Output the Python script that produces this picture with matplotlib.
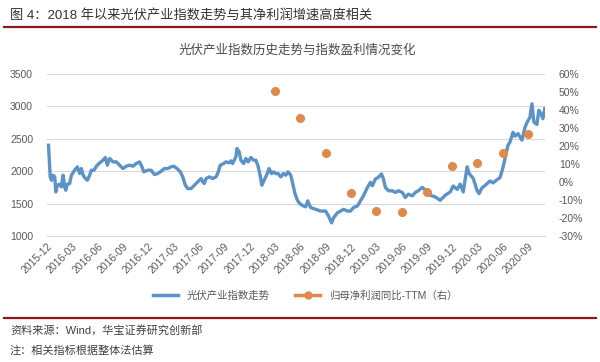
import numpy as np
import matplotlib
matplotlib.use('Agg')
import matplotlib.pyplot as plt
from matplotlib.lines import Line2D

plt.rcParams['font.family'] = ['Liberation Sans', 'Noto Sans CJK SC', 'DejaVu Sans']

# month offsets since 2015-12 and index level
months = [0.18, 0.38, 0.53, 0.73, 0.92, 1.04, 1.24, 1.51, 1.71, 1.91, 2.10, 2.22, 2.42, 2.69, 2.89,
          3.28, 3.60, 3.87, 4.07, 4.28, 4.55, 4.78, 5.05, 5.26, 5.57, 5.85, 6.24, 6.64, 6.91, 7.15,
          7.42, 7.82, 8.21, 8.60, 9.00, 9.39, 9.78, 10.18, 10.57, 10.96, 11.16, 11.48, 11.95, 12.34,
          12.73, 13.13, 13.52, 13.91, 14.31, 14.70, 15.02, 15.41, 15.80, 16.08, 16.39, 16.68, 17.07,
          17.46, 17.86, 18.25, 18.45, 18.64, 18.84, 19.23, 19.63, 20.02, 20.22, 20.53, 20.93, 21.20,
          21.59, 21.79, 21.99, 22.18, 22.38, 22.50, 22.77, 22.97, 23.29, 23.56, 23.83, 24.15, 24.47,
          24.74, 25.01, 25.25, 25.45, 25.72, 26.01, 26.31, 26.60, 26.83, 27.10, 27.38, 27.70, 28.01,
          28.29, 28.56, 28.88, 29.15, 29.38, 29.67, 29.94, 30.29, 30.65, 30.88, 31.24, 31.83, 32.42,
          33.01, 33.36, 33.72, 33.95, 34.42, 34.78, 35.13, 35.60, 35.96, 36.31, 36.78, 37.14, 37.49,
          37.96, 38.32, 38.55, 38.91, 39.26, 39.62, 39.86, 40.09, 40.45, 40.92, 41.27, 41.63, 42.10,
          42.45, 42.81, 43.28, 43.64, 43.99, 44.46, 44.82, 45.41, 46.00, 46.59, 47.18, 47.77, 48.12,
          48.60, 48.95, 49.31, 49.78, 50.01, 50.49, 50.96, 51.19, 51.55, 51.90, 52.49, 52.85, 53.32,
          53.67, 54.03, 54.38, 54.62, 54.85, 55.21, 55.44, 55.80, 56.27, 56.62, 56.86, 57.21, 57.45,
          57.68, 58.04, 58.27, 58.51, 58.74, 58.98]
index_vals = [2400, 1912, 1860, 1938, 1912, 1680, 1783, 1800, 1758, 1938, 1758, 1706, 1800, 1810, 1938,
              2015, 2067, 1964, 2041, 1938, 1887, 1860, 1938, 2015, 2015, 2077, 2129, 2170, 2211, 2093,
              2196, 2144, 2144, 2093, 2041, 2077, 2093, 2077, 2118, 2144, 2093, 1990, 2015, 2015,
              1948, 1964, 2000, 2041, 2041, 2067, 2077, 2041, 1990, 1912, 1783, 1732, 1732,
              1783, 1835, 1887, 1835, 1810, 1887, 1912, 1887, 1912, 1964, 2093, 2118, 2144,
              2129, 2160, 2118, 2170, 2222, 2350, 2299, 2170, 2118, 2196, 2144, 2211, 2170,
              2170, 2077, 1938, 1783, 1860, 1938, 2041, 1964, 1990, 1964, 1964, 1912, 1964,
              1938, 1990, 1938, 1783, 1655, 1552, 1500, 1470, 1450, 1542, 1438, 1411, 1385,
              1385, 1307, 1203, 1281, 1359, 1385, 1411, 1385, 1385, 1438, 1464, 1542, 1620,
              1750, 1828, 1776, 1880, 1906, 1958, 1880, 1750, 1698, 1698, 1672, 1698, 1672,
              1594, 1646, 1620, 1672, 1698, 1750, 1710, 1629, 1603, 1551, 1629, 1680, 1770,
              1720, 1800, 1680, 2067, 1964, 1890, 1700, 1655, 1745, 1780, 1850, 1820, 1870,
              1900, 2060, 2270, 2400, 2450, 2600, 2540, 2580, 2480, 2670, 2750, 2830, 3040,
              2760, 2720, 2940, 2890, 2810, 2970]

# quarterly net profit growth (TTM), %
profit_months = [27, 30, 33, 36, 39, 42, 45, 48, 51, 54, 57]
profit_growth = [50.5, 35.5, 16, -6, -16, -16.5, -5.5, 9, 10.5, 16, 26.5]

tick_labels = ['2015-12', '2016-03', '2016-06', '2016-09', '2016-12', '2017-03', '2017-06',
               '2017-09', '2017-12', '2018-03', '2018-06', '2018-09', '2018-12', '2019-03',
               '2019-06', '2019-09', '2019-12', '2020-03', '2020-06', '2020-09']

blue = '#5b93c8'
orange = '#dd8a4c'
gray = '#595959'

fig = plt.figure(figsize=(6, 3.62), dpi=100)
ax = fig.add_axes([47/600, 1-236/362, 498/600, 162/362])
ax2 = ax.twinx()

ax.plot(months, index_vals, color=blue, lw=2.4, solid_joinstyle='round', zorder=3)
ax2.plot(profit_months, profit_growth, 'o', color=orange, ms=5.5, zorder=4)

ax.set_xlim(0, 59)
ax.set_ylim(1000, 3500)
ax.set_yticks(range(1000, 3501, 500))
ax2.set_ylim(-30, 60)
ax2.set_yticks(range(-30, 61, 10))
ax2.set_yticklabels(['%d%%' % v for v in range(-30, 61, 10)])

ax.set_xticks(range(0, 58, 3))
ax.set_xticklabels(tick_labels, rotation=45, ha='right', rotation_mode='anchor')

ax.grid(axis='y', color='#d9d9d9', lw=0.8)
ax.set_axisbelow(True)
for a in (ax, ax2):
    for s in a.spines.values():
        s.set_visible(False)
    a.tick_params(length=0, labelsize=7.5, labelcolor=gray)
ax.spines['bottom'].set_visible(True)
ax.spines['bottom'].set_color('#d9d9d9')
ax.tick_params(axis='y', pad=10)
ax.tick_params(axis='x', pad=4)
ax2.tick_params(axis='y', pad=10)

# header, title, footer
fig.text(10/600, 1-15/362, '图 4：2018 年以来光伏产业指数走势与其净利润增速高度相关',
         fontsize=9.5, color='#333333', va='center', ha='left')
fig.add_artist(Line2D([4/600, 596/600], [1-27/362, 1-27/362], color='#8b1a1a', lw=1.6))
fig.text(297/600, 1-50/362, '光伏产业指数历史走势与指数盈利情况变化',
         fontsize=9, color='#4a4a4a', va='center', ha='center')

handles = [Line2D([], [], color=blue, lw=2.5),
           Line2D([], [], color=orange, lw=2.5, marker='o', ms=5)]
fig.legend(handles, ['光伏产业指数走势', '归母净利润同比-TTM（右）'], loc='center',
           bbox_to_anchor=(305/600, 1-296/362), ncol=2, frameon=False, fontsize=7.5,
           labelcolor=gray, handlelength=2.4, columnspacing=2.5)

fig.add_artist(Line2D([4/600, 596/600], [1-318/362, 1-318/362], color='#8b1a1a', lw=1.6))
fig.text(10/600, 1-330/362, '资料来源：Wind，华宝证券研究创新部', fontsize=8,
         color='#404040', va='center', ha='left')
fig.text(10/600, 1-350/362, '注：相关指标根据整体法估算', fontsize=8,
         color='#404040', va='center', ha='left')

fig.savefig('out.png', dpi=100)
